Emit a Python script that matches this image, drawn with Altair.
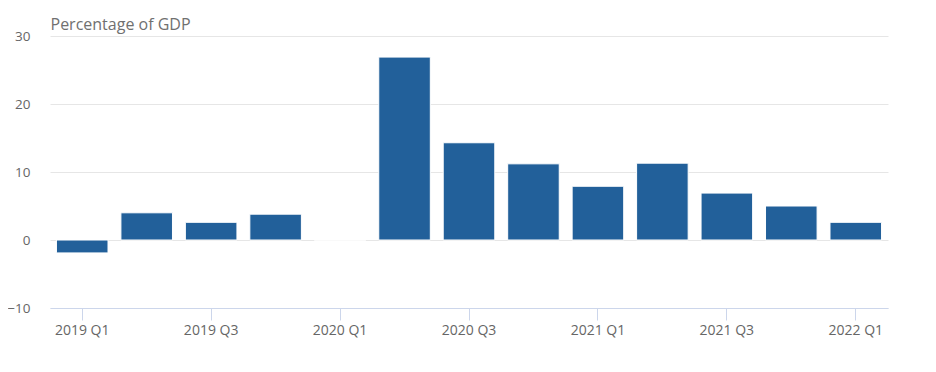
import altair as alt
import pandas as pd

quarters = ["2019 Q1", "2019 Q2", "2019 Q3", "2019 Q4",
            "2020 Q1", "2020 Q2", "2020 Q3", "2020 Q4",
            "2021 Q1", "2021 Q2", "2021 Q3", "2021 Q4", "2022 Q1"]
values = [-1.9, 4.0, 2.6, 3.8, 0.0, 26.9, 14.3, 11.2, 7.9, 11.3, 6.9, 5.0, 2.6]
label_quarters = ["2019 Q1", "2019 Q3", "2020 Q1", "2020 Q3", "2021 Q1", "2021 Q3", "2022 Q1"]
y_ticks = [-10, 0, 10, 20, 30]

df = pd.DataFrame({"quarter": quarters, "value": values})

font = "Open Sans"

chart = alt.Chart(df).mark_bar(color="#22609a", stroke="white", strokeWidth=1).encode(
    x=alt.X("quarter:N", sort=quarters,
            scale=alt.Scale(paddingInner=0.2, paddingOuter=0.1),
            axis=alt.Axis(title=None, values=label_quarters, labelAngle=0,
                          domainColor="#ccd6eb", tickColor="#ccd6eb", tickSize=12,
                          labelColor="#666666", labelFontSize=14, labelFont=font,
                          labelPadding=3, grid=False)),
    y=alt.Y("value:Q", scale=alt.Scale(domain=[-10, 30], nice=False),
            axis=alt.Axis(values=y_ticks, title="Percentage of GDP", titleAngle=0,
                          titleX=0, titleY=-4, titleAlign="left", titleBaseline="bottom",
                          titleFont=font, titleFontSize=16, titleFontWeight="normal",
                          titleColor="#707070",
                          domain=False, ticks=False, gridColor="#e6e6e6",
                          labelColor="#666666", labelFontSize=13.5, labelFont=font,
                          labelPadding=20)),
).properties(
    width=838, height=272,
    autosize=alt.AutoSizeParams(type="none"),
    padding={"left": 42, "top": 28, "right": 40, "bottom": 40},
).configure_view(stroke=None)

chart.save("out.html", embed_options={"renderer": "svg", "actions": False})
